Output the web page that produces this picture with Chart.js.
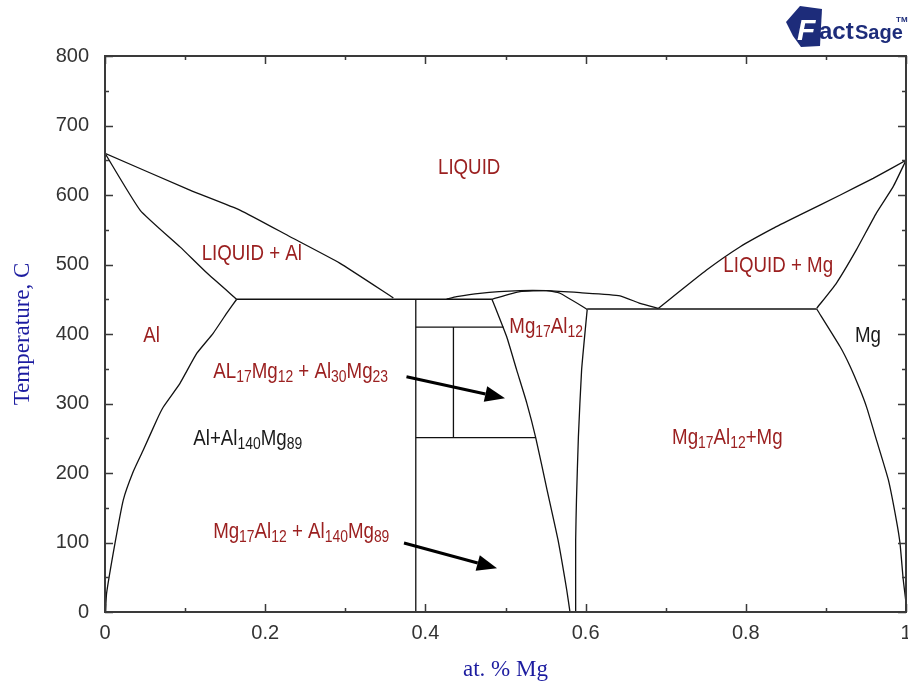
<!DOCTYPE html>
<html><head><meta charset="utf-8">
<script src="https://cdn.jsdelivr.net/npm/chart.js@4/dist/chart.umd.min.js"></script>
<style>html,body{margin:0;padding:0;background:#fff}</style>
</head><body>
<canvas id="c" width="908" height="684"></canvas>
<script>
// ---------- axis ticks ----------
const xTicks = [0, 0.2, 0.4, 0.6, 0.8, 1];
const xTickLabels = ['0', '0.2', '0.4', '0.6', '0.8', '1'];
const xMinorTicks = [0.1, 0.3, 0.5, 0.7, 0.9];
const yTicks = [0, 100, 200, 300, 400, 500, 600, 700, 800];
const yTickLabels = ['0', '100', '200', '300', '400', '500', '600', '700', '800'];
const yMinorTicks = [50, 150, 250, 350, 450, 550, 650, 750];

// ---------- phase boundaries [x (at. frac Mg), T (C)] ----------
const liquidusAl = [[0,660],[0.106,607],[0.169,578],[0.231,540],[0.293,502],[0.36,452]];
const solidusAl = [[0,660],[0.044,578],[0.094,525],[0.127,488],[0.1644,450]];
const solvusAl = [[0.1644,450],[0.152,430],[0.135,401],[0.1145,372],[0.0936,329],[0.0728,295],[0.0645,276],[0.0478,233],[0.0353,202],[0.0228,161],[0.0125,99],[0.002,27],[0.0006,0]];
const eutecticAl = [[0.1644,450],[0.483,450]];
const betaLeft = [[0.388,450],[0.388,0]];
const beta410 = [[0.388,410],[0.4975,410]];
const betaMid = [[0.435,410],[0.435,251]];
const beta251 = [[0.388,251],[0.5377,251]];
const gammaLeft = [[0.483,450],[0.487,439],[0.5015,396],[0.514,348],[0.5265,301],[0.5377,251],[0.552,175],[0.5655,104],[0.5764,32],[0.5805,0]];
const gammaRight = [[0.602,435.5],[0.595,348],[0.591,252],[0.5886,161],[0.5876,104],[0.5876,0]];
const gammaSolidus = [[0.483,450],[0.518,461],[0.551,462.3],[0.568,458.6],[0.602,435.5]];
const gammaLiquidus = [[0.4265,450],[0.439,453.7],[0.468,458.6],[0.518,462.3],[0.551,462.3],[0.593,459.4],[0.643,455],[0.668,444],[0.691,437]];
const eutecticMg = [[0.602,436],[0.8885,436]];
const liquidusMg = [[0.691,437],[0.751,492],[0.793,525.6],[0.834,552],[0.867,571],[0.918,600],[0.959,624],[1,650]];
const solidusMg = [[0.8885,437],[0.913,473],[0.938,521],[0.963,574],[0.984,612],[1,650]];
const solvusMg = [[0.8885,436],[0.9176,382],[0.93,354],[0.9426,320],[0.951,294],[0.963,248],[0.978,190],[0.988,132],[0.9925,99],[0.9966,46],[0.9998,15],[1,0]];

// ---------- region labels ({..} = subscript) ----------
const labelTexts = ['LIQUID','LIQUID + Al','LIQUID + Mg','Al','Mg','Mg{17}Al{12}','AL{17}Mg{12} + Al{30}Mg{23}','Al+Al{140}Mg{89}','Mg{17}Al{12}+Mg','Mg{17}Al{12} + Al{140}Mg{89}'];
const labelX = [0.4157, 0.1207, 0.772, 0.0478, 0.9363, 0.5048, 0.1352, 0.1102, 0.708, 0.135];
const labelT = [630, 506.5, 489.7, 388, 389, 401, 336.3, 240.3, 241.7, 106.5];
const labelColors = ['#9b2020','#9b2020','#9b2020','#9b2020','#1a1a1a','#9b2020','#9b2020','#1a1a1a','#9b2020','#9b2020'];

// ---------- arrows ----------
const arrowFrom = [[0.3764, 338.6], [0.3733, 99.3]];
const arrowTo = [[0.4994, 307.5], [0.4894, 63]];

const curves = [liquidusAl, solidusAl, solvusAl, eutecticAl, betaLeft, beta410, betaMid, beta251,
  gammaLeft, gammaRight, gammaSolidus, gammaLiquidus, eutecticMg, liquidusMg, solidusMg, solvusMg];

const SANS = '"Liberation Sans", Arial, sans-serif';
const SERIF = '"Liberation Serif", "Times New Roman", serif';
const SQ = 0.87;

function drawRich(ctx, str, x, y, color) {
  const re = /\{([^}]*)\}|([^{}]+)/g;
  let m, cx = 0;
  ctx.save();
  ctx.translate(x, y);
  ctx.scale(SQ, 1);
  ctx.fillStyle = color;
  ctx.textAlign = 'left';
  ctx.textBaseline = 'alphabetic';
  while ((m = re.exec(str)) !== null) {
    const sub = m[1] !== undefined;
    const t = sub ? m[1] : m[2];
    ctx.font = (sub ? '16px ' : '21.5px ') + SANS;
    ctx.fillText(t, cx, sub ? 4 : 0);
    cx += ctx.measureText(t).width;
  }
  ctx.restore();
}

const framePlugin = {
  id: 'frame',
  afterDatasetsDraw(chart) {
    const {ctx, scales: {x, y}} = chart;
    labelTexts.forEach((t, i) => {
      drawRich(ctx, t, x.getPixelForValue(labelX[i]), y.getPixelForValue(labelT[i]), labelColors[i]);
    });
    ctx.save();
    ctx.strokeStyle = '#000'; ctx.fillStyle = '#000'; ctx.lineWidth = 3;
    arrowFrom.forEach((f, i) => {
      const x0 = x.getPixelForValue(f[0]), y0 = y.getPixelForValue(f[1]);
      const x1 = x.getPixelForValue(arrowTo[i][0]), y1 = y.getPixelForValue(arrowTo[i][1]);
      const ang = Math.atan2(y1 - y0, x1 - x0);
      const L = 20, W = 8;
      const bx = x1 - L * Math.cos(ang), by = y1 - L * Math.sin(ang);
      ctx.beginPath(); ctx.moveTo(x0, y0); ctx.lineTo(bx, by); ctx.stroke();
      ctx.beginPath();
      ctx.moveTo(x1, y1);
      ctx.lineTo(bx + W * Math.sin(ang), by - W * Math.cos(ang));
      ctx.lineTo(bx - W * Math.sin(ang), by + W * Math.cos(ang));
      ctx.closePath(); ctx.fill();
    });
    ctx.restore();
  },
  afterDraw(chart) {
    const {ctx, chartArea: a, scales: {x, y}} = chart;
    ctx.save();
    ctx.strokeStyle = '#3a3a3a';
    ctx.lineWidth = 2;
    ctx.strokeRect(a.left, a.top, a.right - a.left, a.bottom - a.top);
    ctx.lineWidth = 1.5;
    ctx.beginPath();
    const tickY = (v, len) => { const p = Math.round(y.getPixelForValue(v)) + 0.5;
      ctx.moveTo(a.left, p); ctx.lineTo(a.left + len, p); ctx.moveTo(a.right, p); ctx.lineTo(a.right - len, p); };
    const tickX = (v, len) => { const p = Math.round(x.getPixelForValue(v)) + 0.5;
      ctx.moveTo(p, a.bottom); ctx.lineTo(p, a.bottom - len); ctx.moveTo(p, a.top); ctx.lineTo(p, a.top + len); };
    yTicks.forEach(v => tickY(v, 8));
    yMinorTicks.forEach(v => tickY(v, 4));
    xTicks.forEach(v => tickX(v, 8));
    xMinorTicks.forEach(v => tickX(v, 4));
    ctx.stroke();
    ctx.restore();

    // FactSage logo (text)
    ctx.save();
    ctx.fillStyle = '#1d2c7a';
    ctx.beginPath();
    ctx.moveTo(786, 22); ctx.lineTo(800, 6); ctx.lineTo(822, 9); ctx.lineTo(820, 46); ctx.lineTo(801, 47); ctx.lineTo(793, 36);
    ctx.closePath(); ctx.fill();
    ctx.font = 'bold italic 30px ' + SANS;
    ctx.fillStyle = '#ffffff';
    ctx.textBaseline = 'alphabetic';
    ctx.fillText('F', 797, 40);
    ctx.fillStyle = '#1d2c7a';
    ctx.font = 'bold 24px ' + SANS;
    ctx.fillText('act', 819, 39);
    ctx.font = 'bold 20px ' + SANS;
    ctx.fillText('Sage', 855, 39);
    ctx.font = 'bold 8px ' + SANS;
    ctx.fillText('TM', 896, 22);
    ctx.restore();
  }
};

new Chart(document.getElementById('c'), {
  type: 'scatter',
  data: {
    datasets: curves.map(c => ({
      data: c.map(p => ({x: p[0], y: p[1]})),
      showLine: true, borderColor: '#111', borderWidth: 1.3,
      pointRadius: 0, fill: false, tension: c.length > 2 ? 0.15 : 0
    }))
  },
  options: {
    responsive: false, animation: false, devicePixelRatio: 1,
    plugins: {legend: {display: false}, tooltip: {enabled: false}},
    layout: {padding: {top: 56, right: 2, left: 0, bottom: 0}},
    scales: {
      x: {
        type: 'linear', min: 0, max: 1,
        grid: {display: false, drawTicks: false}, border: {display: false},
        afterBuildTicks: s => { s.ticks = xTicks.map(v => ({value: v})); },
        ticks: {callback: (v, i) => xTickLabels[i], font: {family: SANS, size: 20}, color: '#333', padding: 9, maxRotation: 0, autoSkip: false},
        title: {display: true, text: 'at. % Mg', color: '#1c1ca0', font: {family: SERIF, size: 23}, padding: {top: 0, bottom: 0}},
        afterFit: s => { s.height = 72; s.paddingLeft = 0; s.paddingRight = 0; }
      },
      y: {
        type: 'linear', min: 0, max: 800,
        grid: {display: false, drawTicks: false}, border: {display: false},
        afterBuildTicks: s => { s.ticks = yTicks.map(v => ({value: v})); },
        ticks: {callback: (v, i) => yTickLabels[i], font: {family: SANS, size: 20}, color: '#333', padding: 16, autoSkip: false},
        title: {display: true, text: 'Temperature, C', color: '#1c1ca0', font: {family: SERIF, size: 23}, padding: {top: 9, bottom: 0}},
        afterFit: s => { s.width = 105; s.paddingTop = 0; s.paddingBottom = 0; }
      }
    }
  },
  plugins: [framePlugin]
});
</script>
</body></html>
